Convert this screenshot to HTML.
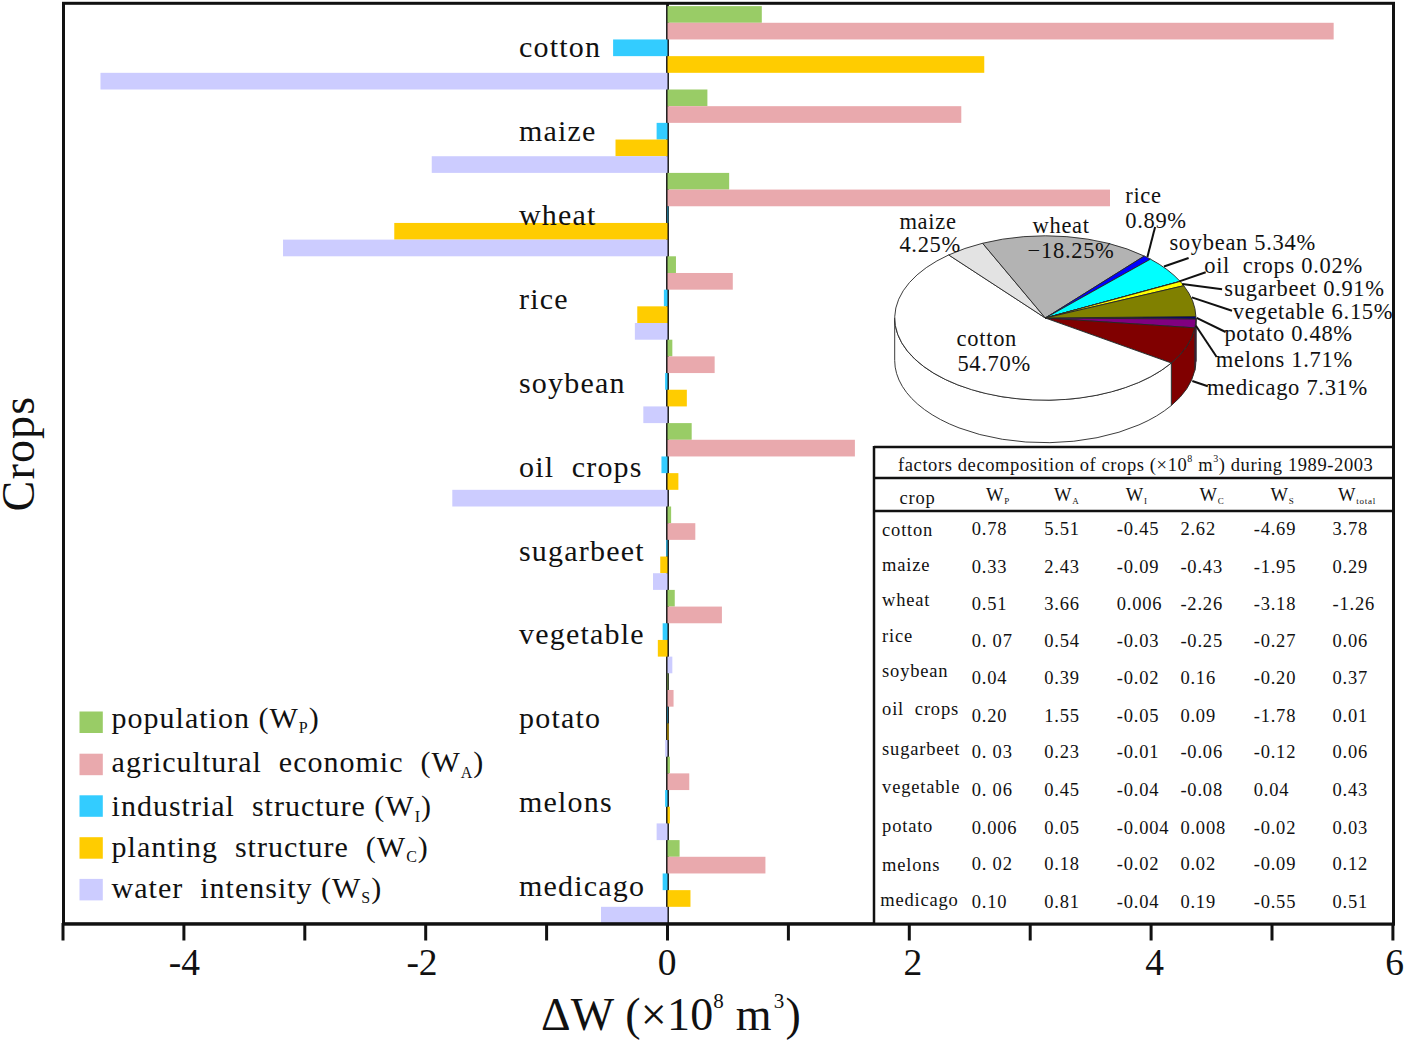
<!DOCTYPE html>
<html><head><meta charset="utf-8"><style>
html,body{margin:0;padding:0;background:#fff;width:1405px;height:1042px;overflow:hidden}
svg{display:block}
text{font-family:"Liberation Serif",serif;fill:#111;white-space:pre}
.cl{font-size:30px;letter-spacing:1.2px}
.tk{font-size:37.5px}
.xl{font-size:46px;letter-spacing:0.2px}
.yl{font-size:46px;letter-spacing:1.2px}
.lg{font-size:30px;letter-spacing:1px}
.pl{font-size:22.5px;letter-spacing:0.7px}
.tb{font-size:18.5px;letter-spacing:0.8px}
.tt{font-size:18.5px;letter-spacing:0.6px}
</style></head><body>
<svg width="1405" height="1042" viewBox="0 0 1405 1042">
<line x1="667.50" y1="3.5" x2="667.50" y2="923.5" stroke="#0d0d0d" stroke-width="2.8"/>
<rect x="667.50" y="6.10" width="94.30" height="16.680" fill="#99cc66"/>
<rect x="667.50" y="22.78" width="666.16" height="16.680" fill="#e9a9ad"/>
<rect x="613.10" y="39.46" width="54.41" height="16.680" fill="#33ccff"/>
<rect x="667.50" y="56.14" width="316.76" height="16.680" fill="#ffcc00"/>
<rect x="100.48" y="72.82" width="567.02" height="16.680" fill="#ccccff"/>
<rect x="667.50" y="89.50" width="39.90" height="16.680" fill="#99cc66"/>
<rect x="667.50" y="106.18" width="293.79" height="16.680" fill="#e9a9ad"/>
<rect x="656.62" y="122.86" width="10.88" height="16.680" fill="#33ccff"/>
<rect x="615.51" y="139.54" width="51.99" height="16.680" fill="#ffcc00"/>
<rect x="431.75" y="156.22" width="235.75" height="16.680" fill="#ccccff"/>
<rect x="667.50" y="172.90" width="61.66" height="16.680" fill="#99cc66"/>
<rect x="667.50" y="189.58" width="442.49" height="16.680" fill="#e9a9ad"/>
<rect x="667.50" y="206.26" width="0.73" height="16.680" fill="#33ccff"/>
<rect x="394.27" y="222.94" width="273.23" height="16.680" fill="#ffcc00"/>
<rect x="283.04" y="239.62" width="384.46" height="16.680" fill="#ccccff"/>
<rect x="667.50" y="256.30" width="8.46" height="16.680" fill="#99cc66"/>
<rect x="667.50" y="272.98" width="65.29" height="16.680" fill="#e9a9ad"/>
<rect x="663.87" y="289.66" width="3.63" height="16.680" fill="#33ccff"/>
<rect x="637.27" y="306.34" width="30.23" height="16.680" fill="#ffcc00"/>
<rect x="634.86" y="323.02" width="32.64" height="16.680" fill="#ccccff"/>
<rect x="667.50" y="339.70" width="4.84" height="16.680" fill="#99cc66"/>
<rect x="667.50" y="356.38" width="47.15" height="16.680" fill="#e9a9ad"/>
<rect x="665.08" y="373.06" width="2.42" height="16.680" fill="#33ccff"/>
<rect x="667.50" y="389.74" width="19.34" height="16.680" fill="#ffcc00"/>
<rect x="643.32" y="406.42" width="24.18" height="16.680" fill="#ccccff"/>
<rect x="667.50" y="423.10" width="24.18" height="16.680" fill="#99cc66"/>
<rect x="667.50" y="439.78" width="187.40" height="16.680" fill="#e9a9ad"/>
<rect x="661.46" y="456.46" width="6.05" height="16.680" fill="#33ccff"/>
<rect x="667.50" y="473.14" width="10.88" height="16.680" fill="#ffcc00"/>
<rect x="452.30" y="489.82" width="215.20" height="16.680" fill="#ccccff"/>
<rect x="667.50" y="506.50" width="3.63" height="16.680" fill="#99cc66"/>
<rect x="667.50" y="523.18" width="27.81" height="16.680" fill="#e9a9ad"/>
<rect x="666.29" y="539.86" width="1.21" height="16.680" fill="#33ccff"/>
<rect x="660.25" y="556.54" width="7.25" height="16.680" fill="#ffcc00"/>
<rect x="652.99" y="573.22" width="14.51" height="16.680" fill="#ccccff"/>
<rect x="667.50" y="589.90" width="7.25" height="16.680" fill="#99cc66"/>
<rect x="667.50" y="606.58" width="54.41" height="16.680" fill="#e9a9ad"/>
<rect x="662.66" y="623.26" width="4.84" height="16.680" fill="#33ccff"/>
<rect x="657.83" y="639.94" width="9.67" height="16.680" fill="#ffcc00"/>
<rect x="667.50" y="656.62" width="4.84" height="16.680" fill="#ccccff"/>
<rect x="667.50" y="673.30" width="0.73" height="16.680" fill="#99cc66"/>
<rect x="667.50" y="689.98" width="6.05" height="16.680" fill="#e9a9ad"/>
<rect x="667.02" y="706.66" width="0.48" height="16.680" fill="#33ccff"/>
<rect x="667.50" y="723.34" width="0.97" height="16.680" fill="#ffcc00"/>
<rect x="665.08" y="740.02" width="2.42" height="16.680" fill="#ccccff"/>
<rect x="667.50" y="756.70" width="2.42" height="16.680" fill="#99cc66"/>
<rect x="667.50" y="773.38" width="21.76" height="16.680" fill="#e9a9ad"/>
<rect x="665.08" y="790.06" width="2.42" height="16.680" fill="#33ccff"/>
<rect x="667.50" y="806.74" width="2.42" height="16.680" fill="#ffcc00"/>
<rect x="656.62" y="823.42" width="10.88" height="16.680" fill="#ccccff"/>
<rect x="667.50" y="840.10" width="12.09" height="16.680" fill="#99cc66"/>
<rect x="667.50" y="856.78" width="97.93" height="16.680" fill="#e9a9ad"/>
<rect x="662.66" y="873.46" width="4.84" height="16.680" fill="#33ccff"/>
<rect x="667.50" y="890.14" width="22.97" height="16.680" fill="#ffcc00"/>
<rect x="601.00" y="906.82" width="66.50" height="16.680" fill="#ccccff"/>
<text x="519" y="56.6" class="cl">cotton</text>
<text x="519" y="140.6" class="cl">maize</text>
<text x="519" y="224.6" class="cl">wheat</text>
<text x="519" y="308.6" class="cl">rice</text>
<text x="519" y="392.5" class="cl">soybean</text>
<text x="519" y="476.5" class="cl">oil  crops</text>
<text x="519" y="560.5" class="cl">sugarbeet</text>
<text x="519" y="644.4" class="cl">vegetable</text>
<text x="519" y="728.4" class="cl">potato</text>
<text x="519" y="812.4" class="cl">melons</text>
<text x="519" y="896.4" class="cl">medicago</text>
<rect x="63.5" y="3.3" width="1330" height="920.6" fill="none" stroke="#111" stroke-width="3"/>
<line x1="63.00" y1="923" x2="63.00" y2="940.5" stroke="#111" stroke-width="3"/>
<line x1="183.90" y1="923" x2="183.90" y2="940.5" stroke="#111" stroke-width="3"/>
<line x1="304.80" y1="923" x2="304.80" y2="940.5" stroke="#111" stroke-width="3"/>
<line x1="425.70" y1="923" x2="425.70" y2="940.5" stroke="#111" stroke-width="3"/>
<line x1="546.60" y1="923" x2="546.60" y2="940.5" stroke="#111" stroke-width="3"/>
<line x1="667.50" y1="923" x2="667.50" y2="940.5" stroke="#111" stroke-width="3"/>
<line x1="788.40" y1="923" x2="788.40" y2="940.5" stroke="#111" stroke-width="3"/>
<line x1="909.30" y1="923" x2="909.30" y2="940.5" stroke="#111" stroke-width="3"/>
<line x1="1030.20" y1="923" x2="1030.20" y2="940.5" stroke="#111" stroke-width="3"/>
<line x1="1151.10" y1="923" x2="1151.10" y2="940.5" stroke="#111" stroke-width="3"/>
<line x1="1272.00" y1="923" x2="1272.00" y2="940.5" stroke="#111" stroke-width="3"/>
<line x1="1392.90" y1="923" x2="1392.90" y2="940.5" stroke="#111" stroke-width="3"/>
<text x="184.30" y="974.5" class="tk" text-anchor="middle">-4</text>
<text x="422.00" y="974.5" class="tk" text-anchor="middle">-2</text>
<text x="667.10" y="974.5" class="tk" text-anchor="middle">0</text>
<text x="912.90" y="974.5" class="tk" text-anchor="middle">2</text>
<text x="1154.50" y="974.5" class="tk" text-anchor="middle">4</text>
<text x="1394.50" y="974.5" class="tk" text-anchor="middle">6</text>
<text x="541" y="1030.2" class="xl">ΔW (×10<tspan dy="-22" font-size="21">8</tspan><tspan dy="22"> m</tspan><tspan dy="-22" dx="2" font-size="21">3</tspan><tspan dy="22" dx="1">)</tspan></text>
<text transform="translate(34,511.5) rotate(-90)" class="yl">Crops</text>
<rect x="79.5" y="711.5" width="23.3" height="21.5" fill="#99cc66"/>
<text x="111.6" y="727.8" class="lg">population (W<tspan font-size="16" dy="5.5">P</tspan><tspan dy="-5.5">)</tspan></text>
<rect x="79.5" y="753.7" width="23.3" height="21.5" fill="#e9a9ad"/>
<text x="111.6" y="772.2" class="lg">agricultural  economic  (W<tspan font-size="16" dy="5.5">A</tspan><tspan dy="-5.5">)</tspan></text>
<rect x="79.5" y="795.3" width="23.3" height="21.5" fill="#33ccff"/>
<text x="111.6" y="816.1" class="lg">industrial  structure (W<tspan font-size="16" dy="5.5">I</tspan><tspan dy="-5.5">)</tspan></text>
<rect x="79.5" y="837.2" width="23.3" height="21.5" fill="#ffcc00"/>
<text x="111.6" y="856.5" class="lg">planting  structure  (W<tspan font-size="16" dy="5.5">C</tspan><tspan dy="-5.5">)</tspan></text>
<rect x="79.5" y="878.9" width="23.3" height="21.5" fill="#ccccff"/>
<text x="111.6" y="897.8" class="lg">water  intensity (W<tspan font-size="16" dy="5.5">S</tspan><tspan dy="-5.5">)</tspan></text>
<path d="M1195.90,318.00 A150.6,82.2 0 0 1 1195.89,319.04 L1195.89,361.54 A150.6,82.2 0 0 0 1195.90,360.50 Z" fill="#000080" stroke="#262626" stroke-width="0.9"/>
<path d="M1195.89,319.04 A150.6,82.2 0 0 1 1194.81,327.85 L1194.81,370.35 A150.6,82.2 0 0 0 1195.89,361.54 Z" fill="#800080" stroke="#262626" stroke-width="0.9"/>
<path d="M1194.81,327.85 A150.6,82.2 0 0 1 1171.32,363.01 L1171.32,405.51 A150.6,82.2 0 0 0 1194.81,370.35 Z" fill="#800000" stroke="#262626" stroke-width="0.9"/>
<path d="M1171.32,363.01 A150.6,82.2 0 0 1 894.70,318.00 L894.70,360.50 A150.6,82.2 0 0 0 1171.32,405.51 Z" fill="#ffffff" stroke="#262626" stroke-width="0.9"/>
<path d="M1045.3,318.0 L1195.88,316.57 A150.6,82.2 0 0 1 1195.89,319.04 Z" fill="#000080" stroke="#262626" stroke-width="0.9"/>
<path d="M1045.3,318.0 L1195.89,319.04 A150.6,82.2 0 0 1 1194.81,327.85 Z" fill="#800080" stroke="#262626" stroke-width="0.9"/>
<path d="M1045.3,318.0 L1194.81,327.85 A150.6,82.2 0 0 1 1171.32,363.01 Z" fill="#800000" stroke="#262626" stroke-width="0.9"/>
<path d="M1045.3,318.0 L1171.32,363.01 A150.6,82.2 0 1 1 948.69,254.94 Z" fill="#ffffff" stroke="#262626" stroke-width="0.9"/>
<path d="M1045.3,318.0 L948.69,254.94 A150.6,82.2 0 0 1 982.60,243.26 Z" fill="#e3e3e3" stroke="#262626" stroke-width="0.9"/>
<path d="M1045.3,318.0 L982.60,243.26 A150.6,82.2 0 0 1 1144.28,256.05 Z" fill="#b3b3b3" stroke="#262626" stroke-width="0.9"/>
<path d="M1045.3,318.0 L1144.28,256.05 A150.6,82.2 0 0 1 1150.47,259.16 Z" fill="#0000ff" stroke="#262626" stroke-width="0.9"/>
<path d="M1045.3,318.0 L1150.47,259.16 A150.6,82.2 0 0 1 1180.09,281.34 Z" fill="#00ffff" stroke="#262626" stroke-width="0.9"/>
<path d="M1045.3,318.0 L1180.09,281.34 A150.6,82.2 0 0 1 1180.18,281.43 Z" fill="#ff00ff" stroke="#262626" stroke-width="0.9"/>
<path d="M1045.3,318.0 L1180.18,281.43 A150.6,82.2 0 0 1 1183.79,285.70 Z" fill="#ffff00" stroke="#262626" stroke-width="0.9"/>
<path d="M1045.3,318.0 L1183.79,285.70 A150.6,82.2 0 0 1 1195.88,316.57 Z" fill="#808000" stroke="#262626" stroke-width="0.9"/>
<text x="1125.2" y="203.20000000000002" class="pl">rice</text>
<text x="1125.2" y="227.8" class="pl">0.89%</text>
<text x="1169.4" y="249.60000000000002" class="pl">soybean 5.34%</text>
<text x="1204.2" y="273.0" class="pl">oil  crops 0.02%</text>
<text x="1224.3" y="296.1" class="pl">sugarbeet 0.91%</text>
<text x="1232.8" y="318.5" class="pl">vegetable 6.15%</text>
<text x="1224.4" y="340.8" class="pl">potato 0.48%</text>
<text x="1215.8" y="366.6" class="pl">melons 1.71%</text>
<text x="1207" y="395.1" class="pl">medicago 7.31%</text>
<text x="899.4" y="228.70000000000002" class="pl">maize</text>
<text x="899.4" y="252.3" class="pl">4.25%</text>
<text x="1032.5" y="232.5" class="pl">wheat</text>
<text x="1027.6" y="257.5" class="pl">−18.25%</text>
<text x="956.6" y="346.40000000000003" class="pl">cotton</text>
<text x="957.4" y="370.8" class="pl">54.70%</text>
<line x1="1155.1" y1="227" x2="1147.4" y2="256.9" stroke="#111" stroke-width="2"/>
<line x1="1188.6" y1="258" x2="1164" y2="266.5" stroke="#111" stroke-width="2"/>
<line x1="1205.7" y1="272.2" x2="1179.4" y2="281.4" stroke="#111" stroke-width="2"/>
<line x1="1222.1" y1="289.3" x2="1182.2" y2="284" stroke="#111" stroke-width="2"/>
<line x1="1232" y1="310.7" x2="1191.8" y2="297.4" stroke="#111" stroke-width="2"/>
<line x1="1225.6" y1="332" x2="1196.6" y2="317.8" stroke="#111" stroke-width="2"/>
<line x1="1216.7" y1="357" x2="1195.9" y2="325.8" stroke="#111" stroke-width="2"/>
<line x1="1207.8" y1="386.3" x2="1192.3" y2="381" stroke="#111" stroke-width="2"/>
<rect x="874" y="447" width="520" height="476.5" fill="#fff" stroke="none"/>
<line x1="874" y1="447" x2="1393.5" y2="447" stroke="#111" stroke-width="2.5"/>
<line x1="874" y1="478" x2="1393.5" y2="478" stroke="#111" stroke-width="2.5"/>
<line x1="874" y1="511" x2="1393.5" y2="511" stroke="#111" stroke-width="2.5"/>
<line x1="874" y1="446" x2="874" y2="923.5" stroke="#111" stroke-width="2.5"/>
<text x="898" y="470.7" class="tt">factors decomposition of crops (×10<tspan font-size="10" dy="-9">8</tspan><tspan dy="9"> m</tspan><tspan font-size="10" dy="-9">3</tspan><tspan dy="9">) during 1989-2003</tspan></text>
<text x="899.6" y="503.7" class="tb">crop</text>
<text x="986" y="500.6" class="tb">W<tspan font-size="9" dy="3">P</tspan></text>
<text x="1054" y="500.6" class="tb">W<tspan font-size="9" dy="3">A</tspan></text>
<text x="1125.7" y="500.6" class="tb">W<tspan font-size="9" dy="3">I</tspan></text>
<text x="1199.4" y="500.6" class="tb">W<tspan font-size="9" dy="3">C</tspan></text>
<text x="1270.4" y="500.6" class="tb">W<tspan font-size="9" dy="3">S</tspan></text>
<text x="1337.9" y="500.6" class="tb">W<tspan font-size="9" dy="3">total</tspan></text>
<text x="882.1" y="535.9" class="tb">cotton</text>
<text x="971.7" y="534.9" class="tb">0.78</text>
<text x="1044.3" y="534.9" class="tb">5.51</text>
<text x="1116.8" y="534.9" class="tb">-0.45</text>
<text x="1180.4" y="534.9" class="tb">2.62</text>
<text x="1253.7" y="534.9" class="tb">-4.69</text>
<text x="1332.5" y="534.9" class="tb">3.78</text>
<text x="882.1" y="570.8" class="tb">maize</text>
<text x="971.7" y="572.6" class="tb">0.33</text>
<text x="1044.3" y="572.6" class="tb">2.43</text>
<text x="1116.8" y="572.6" class="tb">-0.09</text>
<text x="1180.4" y="572.6" class="tb">-0.43</text>
<text x="1253.7" y="572.6" class="tb">-1.95</text>
<text x="1332.5" y="572.6" class="tb">0.29</text>
<text x="882.1" y="606.0" class="tb">wheat</text>
<text x="971.7" y="609.5" class="tb">0.51</text>
<text x="1044.3" y="609.5" class="tb">3.66</text>
<text x="1116.8" y="609.5" class="tb">0.006</text>
<text x="1180.4" y="609.5" class="tb">-2.26</text>
<text x="1253.7" y="609.5" class="tb">-3.18</text>
<text x="1332.5" y="609.5" class="tb">-1.26</text>
<text x="882.1" y="641.8" class="tb">rice</text>
<text x="971.7" y="647.0" class="tb">0. 07</text>
<text x="1044.3" y="647.0" class="tb">0.54</text>
<text x="1116.8" y="647.0" class="tb">-0.03</text>
<text x="1180.4" y="647.0" class="tb">-0.25</text>
<text x="1253.7" y="647.0" class="tb">-0.27</text>
<text x="1332.5" y="647.0" class="tb">0.06</text>
<text x="882.1" y="676.8" class="tb">soybean</text>
<text x="971.7" y="683.7" class="tb">0.04</text>
<text x="1044.3" y="683.7" class="tb">0.39</text>
<text x="1116.8" y="683.7" class="tb">-0.02</text>
<text x="1180.4" y="683.7" class="tb">0.16</text>
<text x="1253.7" y="683.7" class="tb">-0.20</text>
<text x="1332.5" y="683.7" class="tb">0.37</text>
<text x="882.1" y="715.4" class="tb">oil  crops</text>
<text x="971.7" y="721.5" class="tb">0.20</text>
<text x="1044.3" y="721.5" class="tb">1.55</text>
<text x="1116.8" y="721.5" class="tb">-0.05</text>
<text x="1180.4" y="721.5" class="tb">0.09</text>
<text x="1253.7" y="721.5" class="tb">-1.78</text>
<text x="1332.5" y="721.5" class="tb">0.01</text>
<text x="882.1" y="754.6" class="tb">sugarbeet</text>
<text x="971.7" y="758.4" class="tb">0. 03</text>
<text x="1044.3" y="758.4" class="tb">0.23</text>
<text x="1116.8" y="758.4" class="tb">-0.01</text>
<text x="1180.4" y="758.4" class="tb">-0.06</text>
<text x="1253.7" y="758.4" class="tb">-0.12</text>
<text x="1332.5" y="758.4" class="tb">0.06</text>
<text x="882.1" y="793.2" class="tb">vegetable</text>
<text x="971.7" y="796.0" class="tb">0. 06</text>
<text x="1044.3" y="796.0" class="tb">0.45</text>
<text x="1116.8" y="796.0" class="tb">-0.04</text>
<text x="1180.4" y="796.0" class="tb">-0.08</text>
<text x="1253.7" y="796.0" class="tb">0.04</text>
<text x="1332.5" y="796.0" class="tb">0.43</text>
<text x="882.1" y="831.5" class="tb">potato</text>
<text x="971.7" y="833.5" class="tb">0.006</text>
<text x="1044.3" y="833.5" class="tb">0.05</text>
<text x="1116.8" y="833.5" class="tb">-0.004</text>
<text x="1180.4" y="833.5" class="tb">0.008</text>
<text x="1253.7" y="833.5" class="tb">-0.02</text>
<text x="1332.5" y="833.5" class="tb">0.03</text>
<text x="882.1" y="870.6" class="tb">melons</text>
<text x="971.7" y="870.3" class="tb">0. 02</text>
<text x="1044.3" y="870.3" class="tb">0.18</text>
<text x="1116.8" y="870.3" class="tb">-0.02</text>
<text x="1180.4" y="870.3" class="tb">0.02</text>
<text x="1253.7" y="870.3" class="tb">-0.09</text>
<text x="1332.5" y="870.3" class="tb">0.12</text>
<text x="880.3000000000001" y="905.6" class="tb">medicago</text>
<text x="971.7" y="908.2" class="tb">0.10</text>
<text x="1044.3" y="908.2" class="tb">0.81</text>
<text x="1116.8" y="908.2" class="tb">-0.04</text>
<text x="1180.4" y="908.2" class="tb">0.19</text>
<text x="1253.7" y="908.2" class="tb">-0.55</text>
<text x="1332.5" y="908.2" class="tb">0.51</text>
<line x1="1393.5" y1="2" x2="1393.5" y2="925" stroke="#111" stroke-width="3"/>
<line x1="62" y1="923.9" x2="1395" y2="923.9" stroke="#111" stroke-width="3"/>
</svg>
</body></html>
